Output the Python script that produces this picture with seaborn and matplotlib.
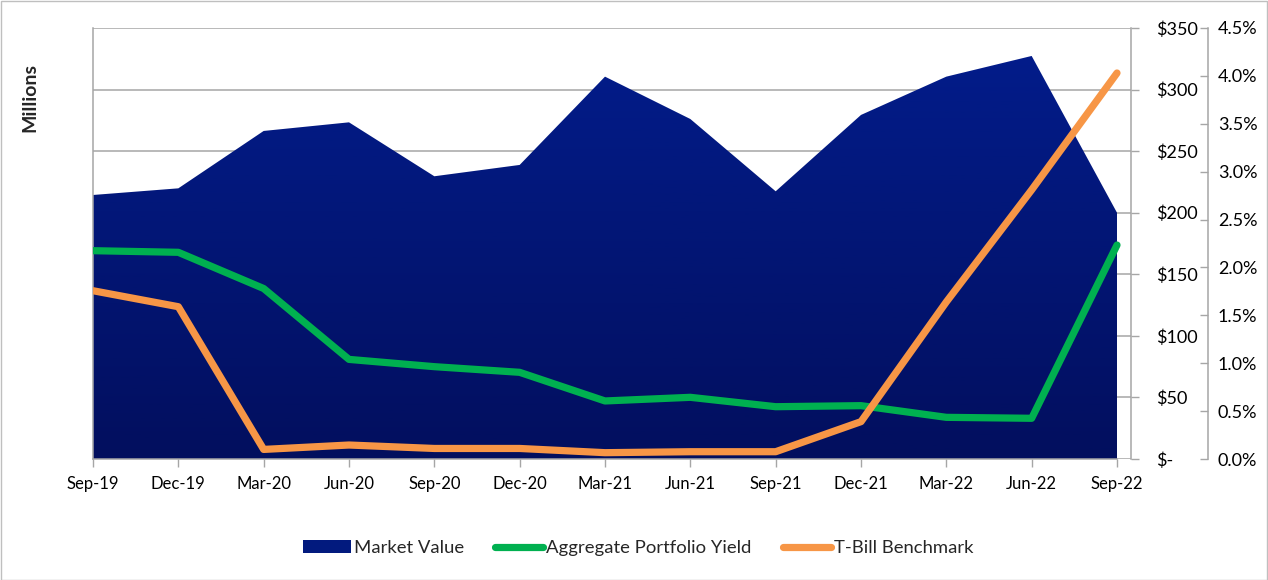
import numpy as np
import pandas as pd
import seaborn as sns
import matplotlib.pyplot as plt
from matplotlib.patches import Patch, Rectangle
from matplotlib.lines import Line2D
from matplotlib.colors import LinearSegmentedColormap

# --- data ---
quarters = ["Sep-19", "Dec-19", "Mar-20", "Jun-20", "Sep-20", "Dec-20", "Mar-21",
            "Jun-21", "Sep-21", "Dec-21", "Mar-22", "Jun-22", "Sep-22"]
market_value = [214.4, 219.8, 266.4, 273.4, 229.6, 238.8, 310.5,
                276.1, 217.4, 279.4, 310.5, 327.3, 200.0]          # $ millions
portfolio_yield = [2.175, 2.158, 1.78, 1.04, 0.964, 0.905, 0.606,
                   0.644, 0.546, 0.557, 0.435, 0.425, 2.234]        # %
tbill_benchmark = [1.757, 1.59, 0.10, 0.146, 0.11, 0.11, 0.066,
                   0.076, 0.076, 0.39, 1.64, 2.81, 4.03]            # %

df = pd.DataFrame({"Quarter": quarters, "MV": market_value,
                   "Yield": portfolio_yield, "TBill": tbill_benchmark})
df["x"] = np.arange(len(df))

GREEN = "#00b050"
ORANGE = "#f79646"
GRID = "#a6a6a6"

sns.set_theme(style="white")
plt.rcParams["font.family"] = ["Lato", "DejaVu Sans"]

W, H = 1268, 580
fig = plt.figure(figsize=(W / 100, H / 100), dpi=100)
# plot area in pixels: left 93, right 1131 ($ axis), top 28, bottom 459
ax = fig.add_axes([93 / W, 1 - 459 / H, (1131 - 93) / W, (459 - 28) / H])
ax2 = ax.twinx()
n = len(df)
x_right = (n - 1) + (1131 - 1117) / ((1117 - 93) / (n - 1))

# --- market value area with vertical gradient ---
poly = ax.fill_between(df["x"], 0, df["MV"], color="none", lw=0, zorder=1)
cmap = LinearSegmentedColormap.from_list("mv", ["#020f5e", "#021c8a"])
grad = np.linspace(0, 1, 256).reshape(-1, 1)
img = ax.imshow(grad, cmap=cmap, origin="lower", aspect="auto",
                extent=[0, n - 1, 0, max(df["MV"])], zorder=1)
img.set_clip_path(poly.get_paths()[0], transform=ax.transData)
ax.set_xlim(0, x_right)
ax.set_ylim(0, 350)

ax.set_axisbelow(True)
ax.grid(axis="y", color=GRID, lw=1.1)
ax.grid(axis="x", visible=False)
ax.set_yticks(np.arange(0, 351, 50))
ax.set_yticklabels(["$-"] + [f"${v}" for v in range(50, 351, 50)])
ax.yaxis.tick_right()
ax.tick_params(axis="y", which="both", right=True, left=False, labelright=True,
               labelleft=False, direction="out", length=6, width=1, color=GRID,
               pad=12, labelsize=13, labelcolor="black")
ax.set_xticks(df["x"])
ax.set_xticklabels(df["Quarter"])
ax.tick_params(axis="x", bottom=True, direction="out", length=6, width=1,
               color=GRID, pad=6, labelsize=12, labelcolor="black")
for side in ["left", "right", "bottom"]:
    ax.spines[side].set_color(GRID)
    ax.spines[side].set_linewidth(1.1)
ax.spines["top"].set_visible(False)
ax.spines["bottom"].set_bounds(0, n - 1)
ax.set_xlabel("")
ax.set_ylabel("")

# --- yield lines on secondary % axis ---
sns.lineplot(data=df, x="x", y="Yield", ax=ax2, color=GREEN, lw=5.2,
             solid_capstyle="round", solid_joinstyle="round", zorder=3)
sns.lineplot(data=df, x="x", y="TBill", ax=ax2, color=ORANGE, lw=5.2,
             solid_capstyle="round", solid_joinstyle="round", zorder=3)
ax2.set_xlim(0, x_right)
ax2.set_ylim(0, 4.5)
ax2.set_yticks(np.arange(0, 4.51, 0.5))
ax2.set_yticklabels([f"{v:.1f}%" for v in np.arange(0, 4.51, 0.5)])
ax2.spines["right"].set_position(("axes", (1208 - 93) / (1131 - 93)))
for side in ["left", "top", "bottom"]:
    ax2.spines[side].set_visible(False)
ax2.spines["right"].set_color(GRID)
ax2.spines["right"].set_linewidth(1.1)
ax2.tick_params(axis="y", right=True, left=False, labelleft=False, labelright=True,
                direction="in", length=6, width=1, color=GRID, pad=7,
                labelsize=13, labelcolor="black")
ax2.set_xlabel("")
ax2.set_ylabel("")
ax2.grid(False)

fig.text(30 / W, 1 - 98 / H, "Millions", rotation=90, ha="center", va="center",
         fontsize=14, fontweight="bold")

# --- legend ---
handles = [
    Patch(facecolor="#021a7e", edgecolor="none"),
    Line2D([], [], color=GREEN, lw=5.2, solid_capstyle="round"),
    Line2D([], [], color=ORANGE, lw=5.2, solid_capstyle="round"),
]
labels = ["Market Value", "Aggregate Portfolio Yield", "T-Bill Benchmark"]
fig.legend(handles, labels, loc="center", bbox_to_anchor=(638 / W, 1 - 548 / H),
           ncol=3, frameon=False, fontsize=13.3, handlelength=2.6, handleheight=0.75,
           handletextpad=0.15, columnspacing=1.7)

# outer chart border
fig.patches.append(Rectangle((0.5 / W, 0.5 / H), 1 - 1.5 / W, 1 - 1.5 / H,
                             transform=fig.transFigure, fill=False,
                             edgecolor="#bfbfbf", lw=1))

fig.savefig("out.png", dpi=100)
